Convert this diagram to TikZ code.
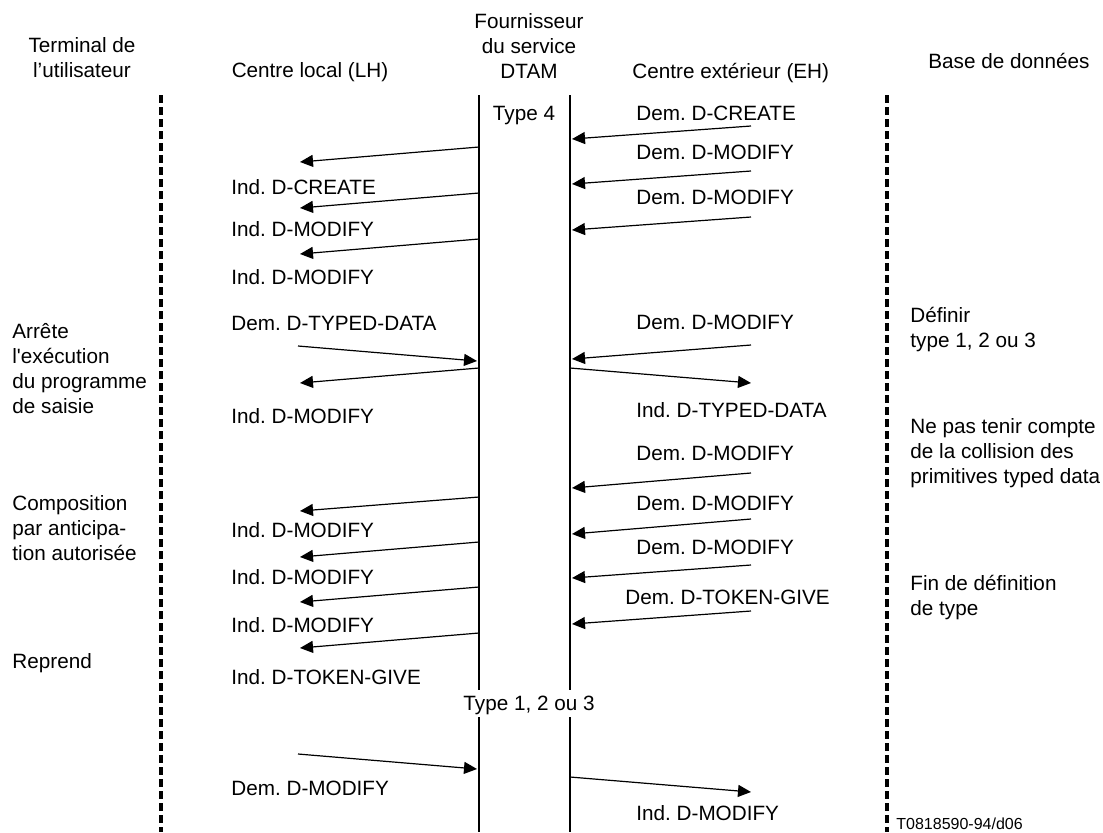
\documentclass[tikz,border=0pt]{standalone}
\usepackage{fontspec}
\setmainfont{Liberation Sans}
\usetikzlibrary{arrows.meta,positioning}
\frenchspacing

\tikzset{
  lane/.style={line width=2pt,dash pattern=on 3.8pt off 2.2pt},
  provider/.style={line width=1pt},
  msg/.style={line width=0.6pt,-{Triangle[length=6.5pt,width=6pt]}},
  prim/.style={inner sep=0pt,anchor=base west},
  note/.style={inner sep=0pt,anchor=north west,align=left},
  head/.style={inner sep=0pt,anchor=north,align=center},
}

\begin{document}
\begin{tikzpicture}[x=0.5pt,y=-0.5pt,font=\fontsize{10.35}{12.5}\selectfont]
    \useasboundingbox (0,0) rectangle (1103,832);
    % column heads
    \node[head] (term) at (82,37.5) {Terminal de\\l'utilisateur};
    \node[prim,anchor=base] (lh) at (310,77) {Centre local (LH)};
    \node[head] (dtam) at (529,13) {Fournisseur\\du service\\DTAM};
    \node[prim] (eh) at (632,78) {Centre extérieur (EH)};
    \node[prim] (db) at (928,68) {Base de données};

    % lanes
    \coordinate (ut) at (161,95);  \coordinate (ub) at (161,832);
    \coordinate (dt) at (887,95);  \coordinate (dbot) at (887,832);
    \coordinate (lt) at (479,95);  \coordinate (lg1) at (479,690);
    \coordinate (lg2) at (479,717); \coordinate (lb) at (479,832);
    \coordinate (et) at (570,95);  \coordinate (eg1) at (570,690);
    \coordinate (eg2) at (570,717); \coordinate (eb) at (570,832);
    \draw[lane] (ut) -- (ub);
    \draw[lane] (dt) -- (dbot);
    \draw[provider] (lt) -- (lg1) (lg2) -- (lb);
    \draw[provider] (et) -- (eg1) (eg2) -- (eb);
    \node[prim,anchor=base] (type4) at (524,120) {Type 4};
    \node[prim,anchor=base] (type123) at (529,710) {Type 1, 2 ou 3};

    % side notes
    \node[note] (stop) at (12,323.5) {Arrête\\l\textquotesingle exécution\\du programme\\de saisie};
    \node[note] (compo) at (12,495) {Composition\\par anticipa-\\tion autorisée};
    \node[prim] (resume) at (12,668) {Reprend};
    \node[note] (define) at (910,306.5) {Définir\\type 1, 2 ou 3};
    \node[note] (ignore) at (910,418.5) {Ne pas tenir compte\\de la collision des\\primitives typed data};
    \node[note] (enddef) at (910,575) {Fin de définition\\de type};
    \node[prim,font=\fontsize{8}{9}\selectfont] (ref) at (896,829) {T0818590-94/d06};

    % primitives on the LH side
    \node[prim] (ind1) at (231,194) {Ind. D-CREATE};
    \node[prim] (ind2) at (231,236) {Ind. D-MODIFY};
    \node[prim] (ind3) at (231,284) {Ind. D-MODIFY};
    \node[prim] (dem4) at (231,330) {Dem. D-TYPED-DATA};
    \node[prim] (ind5) at (231,423) {Ind. D-MODIFY};
    \node[prim] (ind6) at (231,537) {Ind. D-MODIFY};
    \node[prim] (ind7) at (231,584) {Ind. D-MODIFY};
    \node[prim] (ind8) at (231,632) {Ind. D-MODIFY};
    \node[prim] (ind9) at (231,684) {Ind. D-TOKEN-GIVE};
    \node[prim] (dem10) at (231,795) {Dem. D-MODIFY};

    % primitives on the EH side
    \node[prim] (dem1) at (636,120) {Dem. D-CREATE};
    \node[prim] (dem2) at (636,159) {Dem. D-MODIFY};
    \node[prim] (dem3) at (636,204) {Dem. D-MODIFY};
    \node[prim] (dem4e) at (636,329) {Dem. D-MODIFY};
    \node[prim] (ind5e) at (636,417) {Ind. D-TYPED-DATA};
    \node[prim] (dem6) at (636,460) {Dem. D-MODIFY};
    \node[prim] (dem7) at (636,510) {Dem. D-MODIFY};
    \node[prim] (dem8) at (636,554) {Dem. D-MODIFY};
    \node[prim] (dem9) at (625,604) {Dem. D-TOKEN-GIVE};
    \node[prim] (ind10e) at (636,820) {Ind. D-MODIFY};

    % arrows LH side
    \coordinate (lp1) at (479,147);  \coordinate (lc1) at (300,162);
    \coordinate (lp2) at (479,193);  \coordinate (lc2) at (300,208);
    \coordinate (lp3) at (479,239);  \coordinate (lc3) at (300,254);
    \coordinate (lc4) at (298,346);  \coordinate (lp4) at (477,361);
    \coordinate (lp5) at (479,368);  \coordinate (lc5) at (300,383);
    \coordinate (lp6) at (479,497);  \coordinate (lc6) at (300,511);
    \coordinate (lp7) at (479,542);  \coordinate (lc7) at (300,557);
    \coordinate (lp8) at (479,587);  \coordinate (lc8) at (300,602);
    \coordinate (lp9) at (479,633);  \coordinate (lc9) at (300,648);
    \coordinate (lc10) at (298,754); \coordinate (lp10) at (477,769);
    \path[msg]
    (lp1) edge (lc1)
    (lp2) edge (lc2)
    (lp3) edge (lc3)
    (lc4) edge (lp4)
    (lp5) edge (lc5)
    (lp6) edge (lc6)
    (lp7) edge (lc7)
    (lp8) edge (lc8)
    (lp9) edge (lc9)
    (lc10) edge (lp10);

    % arrows EH side
    \coordinate (ec1) at (751,126);  \coordinate (rp1) at (572,139);
    \coordinate (ec2) at (751,171);  \coordinate (rp2) at (572,184);
    \coordinate (ec3) at (751,217);  \coordinate (rp3) at (572,230);
    \coordinate (ec4) at (751,345);  \coordinate (rp4) at (572,359);
    \coordinate (rp5) at (570,368);  \coordinate (ec5) at (751,383);
    \coordinate (ec6) at (751,473);  \coordinate (rp6) at (572,488);
    \coordinate (ec7) at (751,519);  \coordinate (rp7) at (572,534);
    \coordinate (ec8) at (751,565);  \coordinate (rp8) at (572,578);
    \coordinate (ec9) at (751,611);  \coordinate (rp9) at (572,624);
    \coordinate (rp10) at (570,777); \coordinate (ec10) at (751,792);
    \path[msg]
    (ec1) edge (rp1)
    (ec2) edge (rp2)
    (ec3) edge (rp3)
    (ec4) edge (rp4)
    (rp5) edge (ec5)
    (ec6) edge (rp6)
    (ec7) edge (rp7)
    (ec8) edge (rp8)
    (ec9) edge (rp9)
    (rp10) edge (ec10);
\end{tikzpicture}
\end{document}
